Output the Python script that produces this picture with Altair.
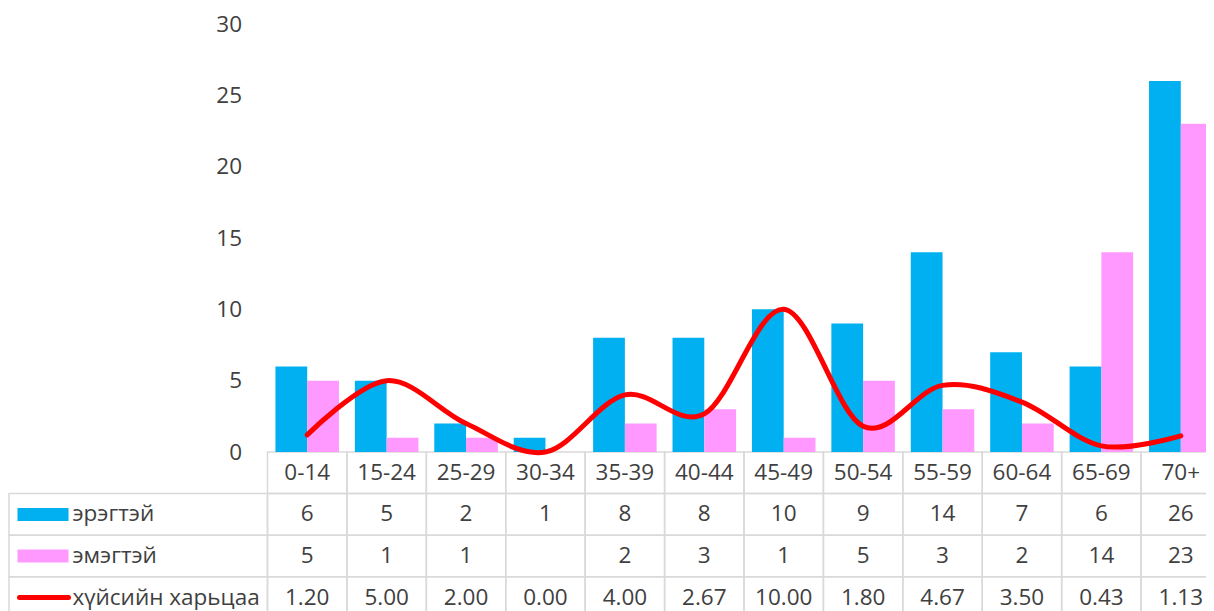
import altair as alt
import pandas as pd

categories = ["0-14", "15-24", "25-29", "30-34", "35-39", "40-44", "45-49",
              "50-54", "55-59", "60-64", "65-69", "70+"]
male = [6, 5, 2, 1, 8, 8, 10, 9, 14, 7, 6, 26]
female = [5, 1, 1, None, 2, 3, 1, 5, 3, 2, 14, 23]
ratio = [1.20, 5.00, 2.00, 0.00, 4.00, 2.67, 10.00, 1.80, 4.67, 3.50, 0.43, 1.13]
series = ["эрэгтэй", "эмэгтэй", "хүйсийн харьцаа"]
y_ticks = [0, 5, 10, 15, 20, 25, 30]

BLUE = "#00B0F0"
PINK = "#FF99FF"
RED = "#FF0000"
TXT = "#404040"
GRID = "#D9D9D9"
FONT = "Open Sans"
FS = 22.5

PAD_L = 259.5          # room for the table's label column
PAD_T = 16
VIEW_W = 1198 - PAD_L  # visible width (the table runs past the right edge, as in the original)
FULL_W = 953           # full width of the 12 category columns
PLOT_H = 428
ROW_H = 41.6
TABLE_H = 4 * ROW_H
VIEW_H = 611 - 8 - PAD_T
LABEL_W = 258.5
HDR = "hdr"
rows_domain = [HDR] + series

# ---- data frames built from the arrays ----
bar_rows = []
for c, m, f in zip(categories, male, female):
    bar_rows.append({"category": c, "sex": series[0], "value": m})
    if f is not None:
        bar_rows.append({"category": c, "sex": series[1], "value": f})
bars_df = pd.DataFrame(bar_rows)

line_df = pd.DataFrame({"category": categories, "ratio": ratio})

cell_rows = []
for i, c in enumerate(categories):
    cell_rows.append({"category": c, "row": HDR, "text": c})
    cell_rows.append({"category": c, "row": series[0], "text": str(male[i])})
    cell_rows.append({"category": c, "row": series[1],
                      "text": "" if female[i] is None else str(female[i])})
    cell_rows.append({"category": c, "row": series[2], "text": f"{ratio[i]:.2f}"})
cells_df = pd.DataFrame(cell_rows)

labels_df = pd.DataFrame({"row": series, "col": [BLUE, PINK, RED]})

# ---- scales ----
xs = alt.Scale(domain=categories, paddingInner=0.2, paddingOuter=0.1, range=[0, FULL_W])
ys = alt.Scale(domain=[0, 30], range=[PLOT_H, 0])
tx = alt.Scale(domain=categories, paddingInner=0, paddingOuter=0, range=[0, FULL_W])
ty = alt.Scale(domain=rows_domain, range=[PLOT_H, PLOT_H + TABLE_H],
               paddingInner=0, paddingOuter=0)

yaxis = alt.Axis(values=y_ticks, title=None, domain=False, ticks=False, grid=False,
                 labelPadding=26, labelFont=FONT, labelFontSize=FS, labelColor=TXT)

bars = alt.Chart(bars_df).mark_bar().encode(
    x=alt.X("category:N", scale=xs, sort=categories, axis=None),
    xOffset=alt.XOffset("sex:N", sort=series[:2],
                        scale=alt.Scale(domain=series[:2], paddingInner=0, paddingOuter=0)),
    y=alt.Y("value:Q", scale=ys, axis=yaxis),
    color=alt.Color("sex:N", scale=alt.Scale(domain=series[:2], range=[BLUE, PINK]),
                    legend=None),
)

line = alt.Chart(line_df).mark_line(
    color=RED, strokeWidth=5, interpolate="cardinal", strokeCap="round", strokeJoin="round"
).encode(
    x=alt.X("category:N", scale=xs, sort=categories, axis=None),
    y=alt.Y("ratio:Q", scale=ys, axis=yaxis),
)

top = alt.layer(bars, line)

cells = alt.Chart(cells_df).mark_rect(
    fill="white", fillOpacity=0, stroke=GRID, strokeWidth=1.5
).encode(
    x=alt.X("category:N", scale=tx, sort=categories, axis=None),
    y=alt.Y("row:N", scale=ty, sort=rows_domain, axis=None),
)

label_cells = alt.Chart(labels_df).mark_rect(
    fill="white", fillOpacity=0, stroke=GRID, strokeWidth=1.5
).encode(
    x=alt.value(-LABEL_W), x2=alt.value(0),
    y=alt.Y("row:N", scale=ty, sort=rows_domain, axis=None),
)

cell_text = alt.Chart(cells_df).mark_text(
    font=FONT, fontSize=FS, color=TXT, baseline="middle"
).encode(
    x=alt.X("category:N", scale=tx, sort=categories, axis=None),
    y=alt.Y("row:N", scale=ty, sort=rows_domain, axis=None),
    text="text:N",
)

label_text = alt.Chart(labels_df).mark_text(
    font=FONT, fontSize=FS, color=TXT, align="left", baseline="middle"
).encode(
    x=alt.value(-195),
    y=alt.Y("row:N", scale=ty, sort=rows_domain, axis=None),
    text="row:N",
)

swatch_bar = alt.Chart(labels_df.iloc[:2]).mark_rule(strokeWidth=13, strokeCap="butt").encode(
    x=alt.value(-250), x2=alt.value(-199),
    y=alt.Y("row:N", scale=ty, sort=rows_domain, axis=None),
    color=alt.Color("col:N", scale=None),
)

swatch_line = alt.Chart(labels_df.iloc[2:]).mark_rule(strokeWidth=5, strokeCap="round").encode(
    x=alt.value(-248), x2=alt.value(-199),
    y=alt.Y("row:N", scale=ty, sort=rows_domain, axis=None),
    color=alt.Color("col:N", scale=None),
)

table = alt.layer(cells, label_cells, cell_text, label_text, swatch_bar, swatch_line)

chart = alt.layer(table, top).resolve_scale(
    x="independent", y="independent"
).properties(
    width=VIEW_W, height=VIEW_H,
    autosize=alt.AutoSizeParams(type="none"),
    padding={"left": PAD_L, "top": PAD_T, "right": 0, "bottom": 0},
).configure_view(stroke=None)

chart.save("out.html", embed_options={"renderer": "svg", "actions": False})
